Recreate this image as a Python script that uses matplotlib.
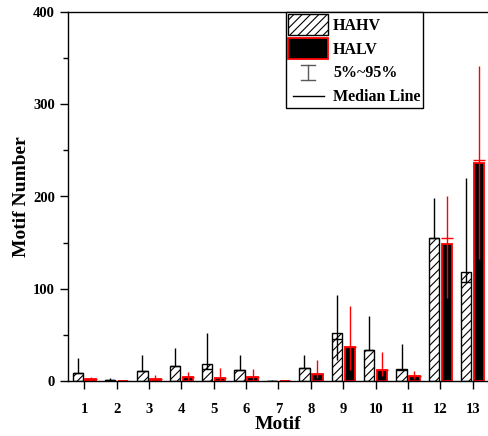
import matplotlib
matplotlib.use('Agg')
import matplotlib.pyplot as plt
import numpy as np
from matplotlib.patches import Patch
from matplotlib.lines import Line2D
from matplotlib.legend_handler import HandlerBase

plt.rcParams['font.family'] = ['Liberation Serif', 'DejaVu Serif']
plt.rcParams['font.weight'] = 'bold'
plt.rcParams['hatch.linewidth'] = 0.8

motifs = [1, 2, 3, 4, 5, 6, 7, 8, 9, 10, 11, 12, 13]
hahv_mean = [8.5, 1.4, 10.5, 16.8, 18.9, 12.4, 0.5, 13.7, 51.5, 33.4, 13.4, 155, 118]
hahv_median = [8.5, 1.4, 10.5, 16.8, 12.5, 12.0, 0.5, 13.7, 45.5, 33.4, 11.5, 155, 107.7]
hahv_p5 = [8.5, 1.4, 10.5, 16.8, 12.5, 12.0, 0.5, 13.7, 23, 33.4, 11.5, 155, 107.7]
hahv_p95 = [24.7, 3, 28.6, 35.6, 52, 28.6, 1.5, 28.5, 93, 70.8, 40, 198, 220]
halv_mean = [2.3, 0.3, 2.6, 4, 3.4, 4, 0.3, 7.2, 37, 12, 5, 148, 236.5]
halv_median = [2.3, 0.3, 2.6, 4, 3.4, 4, 0.3, 7.2, 37, 12, 5, 155, 239.5]
halv_p5 = [1, 0, 1, 1, 1, 1, 0, 3, 12, 5, 2, 90, 132]
halv_p95 = [4, 1.5, 6.9, 10, 13.6, 13, 0.8, 22.7, 81.6, 31, 10.8, 200, 342]
series_names = ['HAHV', 'HALV', '5%~95%', 'Median Line']


class IHandler(HandlerBase):
    def create_artists(self, legend, orig_handle, xdescent, ydescent, width, height, fontsize, trans):
        cx = width / 2 - xdescent
        y0 = -ydescent + 2
        y1 = -ydescent + height - 2
        c = 5
        col = '0.35'
        return [Line2D([cx, cx], [y0, y1], color=col, lw=1.0, transform=trans),
                Line2D([cx - c, cx + c], [y0, y0], color=col, lw=1.0, transform=trans),
                Line2D([cx - c, cx + c], [y1, y1], color=col, lw=1.0, transform=trans)]


class ShortLineHandler(HandlerBase):
    def create_artists(self, legend, orig_handle, xdescent, ydescent, width, height, fontsize, trans):
        cx = width / 2 - xdescent
        cy = height / 2 - ydescent
        return [Line2D([cx - 11, cx + 11], [cy, cy], color='black', lw=1.0, transform=trans)]


class IDummy:
    pass


class LDummy:
    pass


fig = plt.figure(figsize=(4.88, 4.36), dpi=100)
ax = fig.add_axes([68 / 488, 55 / 436, 420 / 488, 369 / 436])

x = np.array(motifs, dtype=float)
w = 0.32
off = 0.2

ax.bar(x - off, hahv_mean, w, facecolor='white', edgecolor='black', hatch='////', lw=1.0, zorder=2)
ax.bar(x + off, halv_mean, w, facecolor='black', edgecolor='red', lw=1.3, zorder=2)
ax.vlines(x - off, hahv_p5, hahv_p95, color='black', lw=1.0, zorder=3)
ax.vlines(x + off, halv_p5, halv_p95, color='red', lw=1.0, zorder=3)
ax.hlines(hahv_median, x - off - w / 2, x - off + w / 2, color='black', lw=1.0, zorder=4)
ax.hlines(halv_median, x + off - w / 2 - 0.03, x + off + w / 2 + 0.03, color='red', lw=1.0, zorder=4)

ax.set_xlim(0.5, 13.47)
ax.set_ylim(0, 400)
ax.set_xticks(motifs)
ax.set_xticklabels([str(m) for m in motifs])
ax.set_yticks([0, 100, 200, 300, 400])
ax.set_yticks([50, 150, 250, 350], minor=True)
ax.tick_params(axis='x', direction='out', length=6, width=1, pad=9.5, labelsize=10.5)
ax.tick_params(axis='y', which='major', direction='out', length=6, width=1, pad=3.5, labelsize=10.5)
ax.tick_params(axis='y', which='minor', direction='out', length=3.5, width=1)
ax.spines['right'].set_visible(False)
for s in ['left', 'bottom', 'top']:
    ax.spines[s].set_linewidth(1.0)

ax.set_xlabel('Motif', fontsize=14, fontweight='bold', labelpad=0)
ax.set_ylabel('Motif Number', fontsize=14, fontweight='bold', labelpad=2)

handles = [Patch(facecolor='white', edgecolor='black', hatch='////', lw=1.0),
           Patch(facecolor='black', edgecolor='red', lw=1.3),
           IDummy(), LDummy()]
leg = ax.legend(handles, series_names, loc='upper left', bbox_to_anchor=(0.519, 1.0),
                borderaxespad=0, fancybox=False, framealpha=1, edgecolor='black',
                prop={'weight': 'bold', 'size': 11.5}, handlelength=2.5, handleheight=1.6,
                handletextpad=0.3, labelspacing=0.2, borderpad=0.15,
                handler_map={IDummy: IHandler(), LDummy: ShortLineHandler()})
leg.get_frame().set_linewidth(1.0)

fig.savefig('out.png', dpi=100)
